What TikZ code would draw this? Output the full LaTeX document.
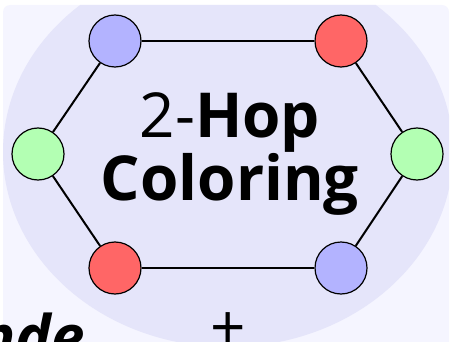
\documentclass[tikz,border=0pt]{standalone}
\usepackage{fontspec}
\setmainfont{Open Sans}
\usetikzlibrary{positioning}
\definecolor{pagebg}{HTML}{F5F5FF}
\definecolor{blobbg}{HTML}{E5E5FA}
\definecolor{vblue}{HTML}{B3B3FF}
\definecolor{vred}{HTML}{FF6666}
\definecolor{vgreen}{HTML}{B3FFB3}

\begin{document}
\begin{tikzpicture}[x=1pt, y=-1pt, vtx/.style={draw, circle, line width=1.2pt, minimum size=52pt, inner sep=0pt}, edge/.style={line width=2pt}]
\useasboundingbox (0,0) rectangle (452,342);
\clip (0,0) rectangle (452,342);
% background
\fill[pagebg, rounded corners=7pt] (3,5) rectangle (449,380);
\begin{scope}
\clip[rounded corners=7pt] (3,5) rectangle (449,380);
\fill[blobbg] (228,152) ellipse [x radius=225pt, y radius=195pt];
\end{scope}
% hexagon of vertices
\node[vtx, fill=vblue] (tl) at (115,41) {};
\node[vtx, fill=vred] (tr) at (341,41) {};
\node[vtx, fill=vgreen] (ml) at (38,154) {};
\node[vtx, fill=vgreen] (mr) at (417,154) {};
\node[vtx, fill=vred] (bl) at (115,268) {};
\node[vtx, fill=vblue] (br) at (341,268) {};
\draw[edge] (tl) -- (tr);
\draw[edge] (tr) -- (mr);
\draw[edge] (mr) -- (br);
\draw[edge] (br) -- (bl);
\draw[edge] (bl) -- (ml);
\draw[edge] (ml) -- (tl);
\node[align=center, anchor=base, font=\fontsize{62}{63}\selectfont] (title) at (230,200) {2-\textbf{Hop}\\\textbf{Coloring}};
\node[anchor=base, font=\fontsize{62}{62}\selectfont] (plus) at (228,349) {+};
\node[anchor=base east, font=\fontsize{60}{60}\selectfont\bfseries\itshape] (word) at (88,358) {nde};
\end{tikzpicture}
\end{document}
